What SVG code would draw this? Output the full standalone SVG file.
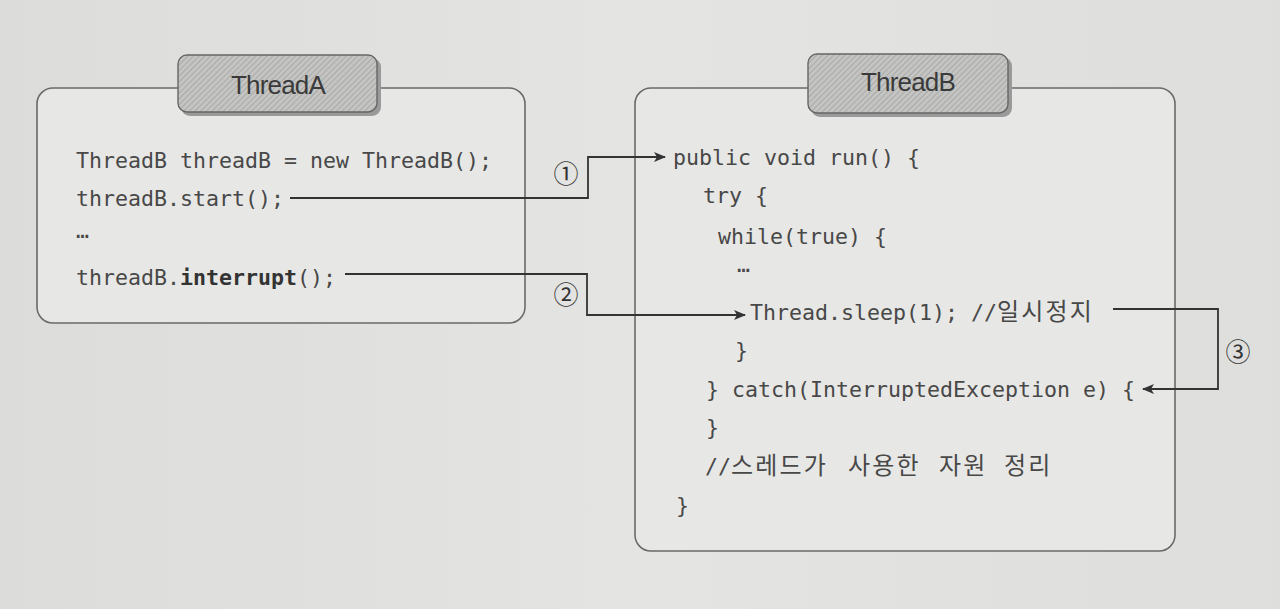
<svg xmlns="http://www.w3.org/2000/svg" width="1280" height="609" viewBox="0 0 1280 609">
<style>
.code{font-family:"DejaVu Sans Mono","Liberation Mono",monospace;font-size:21.6px;fill:#484848}
.kr{font-family:"Noto Sans CJK KR",sans-serif;font-size:24px;fill:#484848}
.box{fill:#e7e7e5;stroke:#6a6a6a;stroke-width:1.6}
.tab{fill:url(#hatch);stroke:#666;stroke-width:1.4}
.tabshadow{fill:#9a9a9a}
.tabtext{font-family:"Liberation Sans",Arial,sans-serif;font-size:26px;fill:#3a3a3a;text-anchor:middle;letter-spacing:-0.8px}
.conn{fill:none;stroke:#333;stroke-width:1.8}
.num{font-family:"Noto Sans CJK KR",sans-serif;font-size:25px;fill:#333;text-anchor:middle}
</style>
<defs>
<pattern id="hatch" width="4" height="4" patternUnits="userSpaceOnUse" patternTransform="rotate(45)">
<rect width="4" height="4" fill="#c4c4c2"/>
<line x1="0" y1="0" x2="0" y2="4" stroke="#a2a2a0" stroke-width="1.6"/>
</pattern>
<marker id="arr" markerWidth="12" markerHeight="10" refX="11" refY="5" orient="auto" markerUnits="userSpaceOnUse">
<path d="M0,0 L12,5 L0,10 L3,5 Z" fill="#333"/>
</marker>
<linearGradient id="bg" x1="0" y1="0" x2="1" y2="0">
<stop offset="0" stop-color="#dcdcda"/>
<stop offset="0.5" stop-color="#e4e4e2"/>
<stop offset="1" stop-color="#dededc"/>
</linearGradient>
</defs>
<rect width="1280" height="609" fill="url(#bg)"/>

<g id="threadA">
<rect class="box" x="37" y="88" width="488" height="235" rx="16"/>
<rect class="tabshadow" x="181" y="58" width="200" height="58" rx="9"/>
<rect class="tab" x="178" y="55" width="199" height="57" rx="9"/>
<text class="tabtext" x="278" y="94">ThreadA</text>
<text class="code" x="76" y="168">ThreadB threadB = new ThreadB();</text>
<text class="code" x="76" y="206">threadB.start();</text>
<text class="code" x="76" y="238">…</text>
<text class="code" x="76" y="285">threadB.<tspan font-weight="bold" fill="#333">interrupt</tspan>();</text>
</g>

<g id="threadB">
<rect class="box" x="635" y="88" width="540" height="463" rx="16"/>
<rect class="tabshadow" x="811" y="57" width="201" height="60" rx="9"/>
<rect class="tab" x="808" y="54" width="200" height="59" rx="9"/>
<text class="tabtext" x="908" y="91">ThreadB</text>
<text class="code" x="673" y="165">public void run() {</text>
<text class="code" x="703" y="203">try {</text>
<text class="code" x="718" y="244">while(true) {</text>
<text class="code" x="737" y="272">…</text>
<text class="code" x="750" y="320">Thread.sleep(1); //<tspan class="kr" letter-spacing="2.2">일시정지</tspan></text>
<text class="code" x="735" y="358">}</text>
<text class="code" x="706" y="397">} catch(InterruptedException e) {</text>
<text class="code" x="706" y="435">}</text>
<text class="code" x="705" y="474">//</text>
<text class="kr" x="731" y="474" letter-spacing="2.2">스레드가</text>
<text class="kr" x="848" y="474" letter-spacing="2.2">사용한</text>
<text class="kr" x="939" y="474" letter-spacing="2.2">자원</text>
<text class="kr" x="1004" y="474" letter-spacing="2.2">정리</text>
<text class="code" x="676" y="513">}</text>
</g>

<g id="connectors">
<polyline class="conn" points="290,198 588,198 588,157 665,157" marker-end="url(#arr)"/>
<polyline class="conn" points="345,274 587,274 587,315 745,315" marker-end="url(#arr)"/>
<polyline class="conn" points="1113,309 1218,309 1218,389 1143,389" marker-end="url(#arr)"/>
<text class="num" x="566" y="183">①</text>
<text class="num" x="566" y="304">②</text>
<text class="num" x="1238" y="361">③</text>
</g>
</svg>
